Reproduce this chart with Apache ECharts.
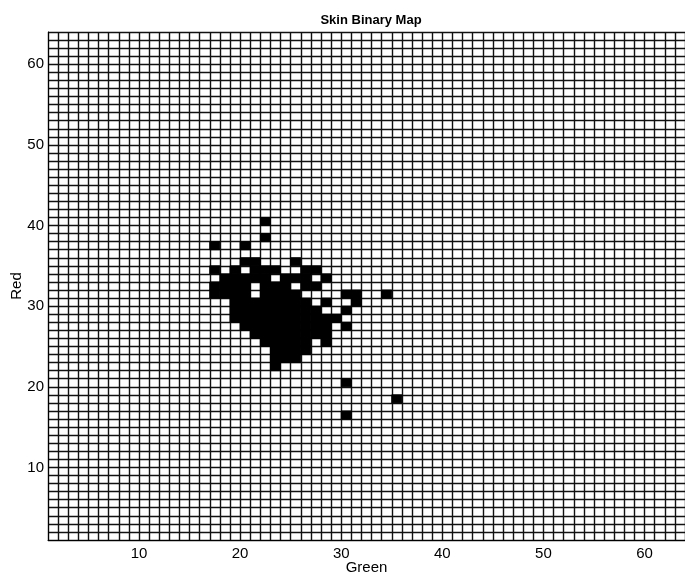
<!DOCTYPE html>
<html>
<head>
<meta charset="utf-8">
<script src="https://cdn.jsdelivr.net/npm/echarts@6/dist/echarts.min.js"></script>
<style>
html,body{margin:0;padding:0;background:#fff;}
#chart{width:685px;height:576px;}
</style>
</head>
<body>
<div id="chart"></div>
<script>
// Axis range (pcolor style: 64 samples -> 63 cells)
var greenMin = 1, greenMax = 64;
var redMin = 1, redMax = 64;
var tickValues = [10, 20, 30, 40, 50, 60];

// Skin cells: for each red value, the green values that are skin (black)
var skinRed = [40, 38, 37, 35, 34, 33, 32, 31, 30, 29, 28, 27, 26, 25, 24, 23, 22, 20, 18, 16];
var skinGreen = [
  [22],
  [22],
  [17, 20],
  [20, 21, 25],
  [17, 19, 21, 22, 23, 26, 27],
  [18, 19, 20, 21, 22, 24, 25, 26, 28],
  [17, 18, 19, 20, 22, 23, 24, 26, 27],
  [17, 18, 19, 20, 22, 23, 24, 25, 30, 31, 34],
  [19, 20, 21, 22, 23, 24, 25, 26, 28, 31],
  [19, 20, 21, 22, 23, 24, 25, 26, 27, 30],
  [19, 20, 21, 22, 23, 24, 25, 26, 27, 28, 29],
  [20, 21, 22, 23, 24, 25, 26, 27, 28, 30],
  [21, 22, 23, 24, 25, 26, 27, 28],
  [22, 23, 24, 25, 26, 28],
  [23, 24, 25, 26],
  [23, 24, 25],
  [23],
  [30],
  [35],
  [30]
];

var cells = [];
for (var i = 0; i < skinRed.length; i++) {
  for (var j = 0; j < skinGreen[i].length; j++) {
    cells.push([skinGreen[i][j], skinRed[i]]);
  }
}

var chart = echarts.init(document.getElementById('chart'), null, {renderer: 'canvas'});
var fontFam = '"Liberation Sans", Arial, Helvetica, sans-serif';

chart.setOption({
  animation: false,
  backgroundColor: '#fff',
  title: {
    text: 'Skin Binary Map',
    left: 366, top: 9, textAlign: 'center',
    textStyle: {fontFamily: fontFam, fontSize: 13, fontWeight: 'bold', color: '#000'}
  },
  grid: {left: 48, right: 0, top: 32, bottom: 36, containLabel: false, outerBoundsMode: 'none'},
  xAxis: {
    type: 'value', min: greenMin, max: greenMax, interval: 1,
    name: 'Green', nameLocation: 'middle', nameGap: 20, nameMoveOverlap: false,
    nameTextStyle: {fontFamily: fontFam, fontSize: 15, color: '#000'},
    axisLine: {show: true, lineStyle: {color: '#000', width: 1}},
    axisTick: {show: false},
    axisLabel: {
      fontFamily: fontFam, fontSize: 15, color: '#000', margin: 6,
      formatter: function (v) { return tickValues.indexOf(v) >= 0 ? String(v) : ''; }
    },
    splitLine: {show: true, lineStyle: {color: '#111', width: 1.4}}
  },
  yAxis: {
    type: 'value', min: redMin, max: redMax, interval: 1,
    name: 'Red', nameLocation: 'middle', nameGap: 24, nameRotate: 90, nameMoveOverlap: false,
    nameTextStyle: {fontFamily: fontFam, fontSize: 15, color: '#000'},
    axisLine: {show: true, lineStyle: {color: '#000', width: 1}},
    axisTick: {show: false},
    axisLabel: {
      fontFamily: fontFam, fontSize: 15, color: '#000', margin: 4,
      formatter: function (v) { return tickValues.indexOf(v) >= 0 ? String(v) : ''; }
    },
    splitLine: {show: true, lineStyle: {color: '#111', width: 1.4}}
  },
  series: [{
    type: 'custom',
    data: cells,
    clip: true,
    renderItem: function (params, api) {
      var g = api.value(0), r = api.value(1);
      var p0 = api.coord([g, r + 1]);
      var p1 = api.coord([g + 1, r]);
      return {
        type: 'rect',
        shape: {x: p0[0], y: p0[1], width: p1[0] - p0[0], height: p1[1] - p0[1]},
        style: {fill: '#000', stroke: '#000', lineWidth: 1}
      };
    }
  }]
});
</script>
</body>
</html>
